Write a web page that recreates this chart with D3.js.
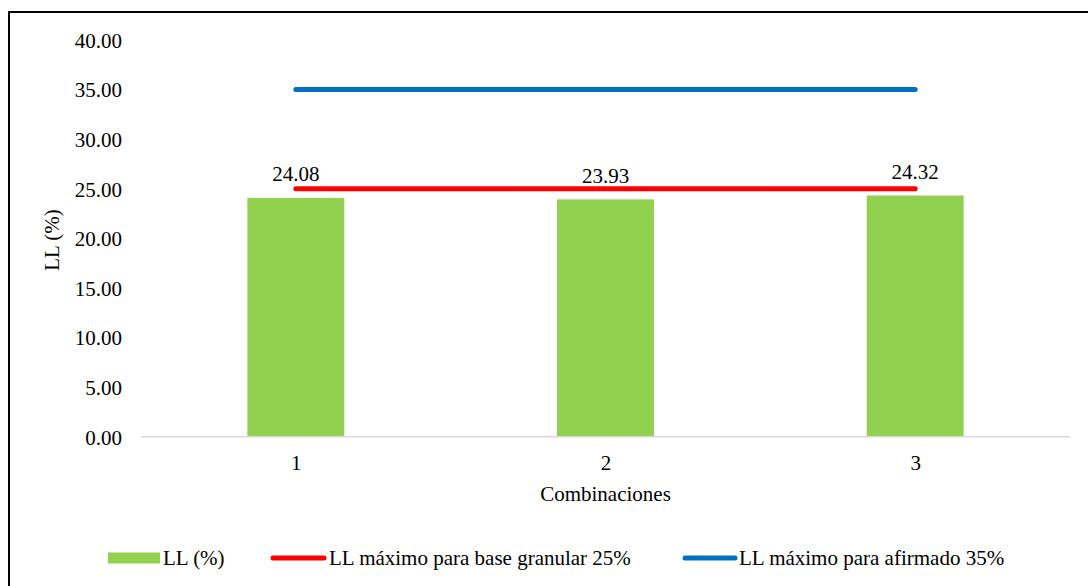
<!DOCTYPE html>
<html>
<head>
<meta charset="utf-8">
<script src="https://cdn.jsdelivr.net/npm/d3@7"></script>
<style>
  html, body { margin: 0; padding: 0; background: #fff; }
  svg { display: block; }
  text { font-family: "Liberation Serif", "Times New Roman", serif; fill: #000; }
</style>
</head>
<body>
<svg id="chart" width="1088" height="586"></svg>
<script>
// ---- data ----
const categories = ["1", "2", "3"];
const llValues = [24.08, 23.93, 24.32];
const baseGranular = [25, 25, 25];
const afirmado = [35, 35, 35];
const yTicks = [0, 5, 10, 15, 20, 25, 30, 35, 40];
const seriesNames = ["LL (%)", "LL máximo para base granular 25%", "LL máximo para afirmado 35%"];
const xTitle = "Combinaciones";
const yTitle = "LL (%)";

// ---- layout ----
const svg = d3.select("#chart");
const fontSize = 21;
const plot = { left: 141, right: 1070, top: 40, bottom: 436.7 };

// outer border (clipped by the canvas at right/bottom like the reference)
svg.append("rect")
  .attr("x", 9).attr("y", 12).attr("width", 1120).attr("height", 620)
  .attr("fill", "none").attr("stroke", "#000").attr("stroke-width", 2);

const x = d3.scaleBand().domain(categories).range([plot.left, plot.right]).paddingInner(0.687).paddingOuter(0.3435);
const xc = d3.scalePoint().domain(categories).range([plot.left, plot.right]).padding(0.5);
const y = d3.scaleLinear().domain([0, 40]).range([plot.bottom, plot.top]);

// y axis (no line, labels only)
const yAxis = d3.axisLeft(y).tickValues(yTicks).tickFormat(d3.format(".2f")).tickSize(0).tickPadding(19);
const gy = svg.append("g").attr("transform", `translate(${plot.left},0)`).call(yAxis);
gy.select(".domain").remove();
gy.selectAll("text").attr("font-size", fontSize).attr("font-family", "Liberation Serif").attr("dy", "0.35em");

// bars
svg.append("g").selectAll("rect").data(llValues).join("rect")
  .attr("x", (d, i) => x(categories[i]))
  .attr("y", d => y(d))
  .attr("width", x.bandwidth())
  .attr("height", d => y(0) - y(d))
  .attr("fill", "#92d050");

// baseline
svg.append("line")
  .attr("x1", plot.left).attr("x2", plot.right)
  .attr("y1", y(0)).attr("y2", y(0))
  .attr("stroke", "#d9d9d9").attr("stroke-width", 1.5);

// x axis labels
const xAxis = d3.axisBottom(xc).tickSize(0).tickPadding(18);
const gx = svg.append("g").attr("transform", `translate(0,${y(0)})`).call(xAxis);
gx.select(".domain").remove();
gx.selectAll("text").attr("font-size", fontSize).attr("font-family", "Liberation Serif");

// lines
const line = d3.line().x((d, i) => xc(categories[i])).y(d => y(d));
svg.append("path").datum(baseGranular).attr("d", line)
  .attr("fill", "none").attr("stroke", "#ff0000").attr("stroke-width", 5).attr("stroke-linecap", "round");
svg.append("path").datum(afirmado).attr("d", line)
  .attr("fill", "none").attr("stroke", "#0070c0").attr("stroke-width", 5).attr("stroke-linecap", "round");

// data labels
svg.append("g").selectAll("text").data(llValues).join("text")
  .attr("x", (d, i) => xc(categories[i]))
  .attr("y", d => y(d) - 16.5)
  .attr("text-anchor", "middle")
  .attr("font-size", fontSize)
  .text(d => d.toFixed(2));

// axis titles
svg.append("text")
  .attr("x", xc("2")).attr("y", 501)
  .attr("text-anchor", "middle").attr("font-size", fontSize)
  .text(xTitle);
svg.append("text")
  .attr("transform", `translate(59,240) rotate(-90)`)
  .attr("text-anchor", "middle").attr("font-size", fontSize)
  .text(yTitle);

// legend
const legY = 558;
const lg = svg.append("g");
lg.append("rect").attr("x", 108).attr("y", legY - 5.5).attr("width", 52).attr("height", 11).attr("fill", "#92d050");
lg.append("text").attr("x", 163).attr("y", legY).attr("dy", "0.35em").attr("font-size", fontSize).text(seriesNames[0]);
lg.append("line").attr("x1", 273).attr("x2", 324).attr("y1", legY).attr("y2", legY)
  .attr("stroke", "#ff0000").attr("stroke-width", 5).attr("stroke-linecap", "round");
lg.append("text").attr("x", 329).attr("y", legY).attr("dy", "0.35em").attr("font-size", fontSize).text(seriesNames[1]);
lg.append("line").attr("x1", 685).attr("x2", 735).attr("y1", legY).attr("y2", legY)
  .attr("stroke", "#0070c0").attr("stroke-width", 5).attr("stroke-linecap", "round");
lg.append("text").attr("x", 739).attr("y", legY).attr("dy", "0.35em").attr("font-size", fontSize).text(seriesNames[2]);
</script>
</body>
</html>
